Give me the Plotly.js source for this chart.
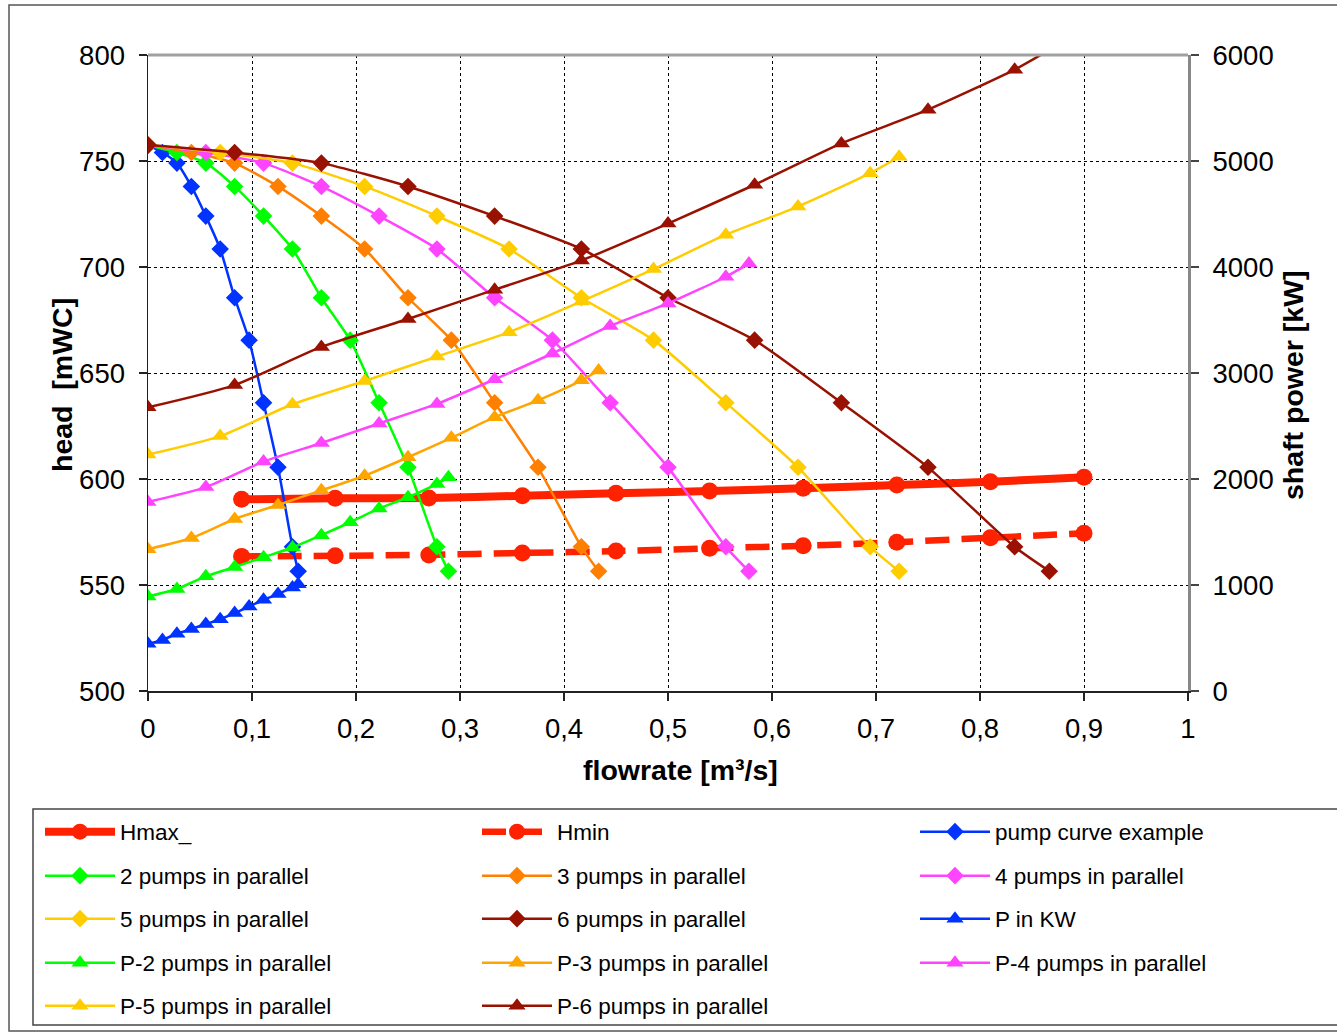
<!DOCTYPE html>
<html>
<head>
<meta charset="utf-8">
<script src="https://cdn.plot.ly/plotly-3.0.1.min.js"></script>
<style>
html,body{margin:0;padding:0;background:#fff;}
#chart{width:1337px;height:1034px;}
</style>
</head>
<body>
<div id="chart"></div>
<script>
// ---- data ----
// head (mWC) of the pump curve at each operating point (same heads for n pumps in parallel)
const HEAD = [757.5, 754, 749, 738, 724, 708.5, 685.5, 665.5, 636, 605.5, 568, 556.5];

// flow rates (m3/s) for 1..6 pumps in parallel
const Q1 = [0, 0.0139, 0.0278, 0.0417, 0.0556, 0.0694, 0.0833, 0.0972, 0.1111, 0.125, 0.1389, 0.1444];
const Q2 = [0, 0.0278, 0.0556, 0.0833, 0.1111, 0.1389, 0.1667, 0.1944, 0.2222, 0.25, 0.2778, 0.2889];
const Q3 = [0, 0.0417, 0.0833, 0.125, 0.1667, 0.2083, 0.25, 0.2917, 0.3333, 0.375, 0.4167, 0.4333];
const Q4 = [0, 0.0556, 0.1111, 0.1667, 0.2222, 0.2778, 0.3333, 0.3889, 0.4444, 0.5, 0.5556, 0.5778];
const Q5 = [0, 0.0694, 0.1389, 0.2083, 0.2778, 0.3472, 0.4167, 0.4861, 0.5556, 0.625, 0.6944, 0.7222];
const Q6 = [0, 0.0833, 0.1667, 0.25, 0.3333, 0.4167, 0.5, 0.5833, 0.6667, 0.75, 0.8333, 0.8667];

// shaft power (kW) for 1..6 pumps in parallel
const P1 = [446, 481, 541, 585, 631, 677, 735, 796, 861, 914, 977, 1008];
const P2 = [892, 962, 1082, 1170, 1262, 1354, 1470, 1592, 1722, 1828, 1954, 2016];
const P3 = [1338, 1443, 1623, 1755, 1893, 2031, 2205, 2388, 2583, 2742, 2931, 3024];
const P4 = [1784, 1924, 2164, 2340, 2524, 2708, 2940, 3184, 3444, 3656, 3908, 4032];
const P5 = [2230, 2405, 2705, 2925, 3155, 3385, 3675, 3980, 4305, 4570, 4885, 5040];
const P6 = [2676, 2886, 3246, 3510, 3786, 4062, 4410, 4776, 5166, 5484, 5862, 6048];

// system curves
const SYS_Q = [0.09, 0.18, 0.27, 0.36, 0.45, 0.54, 0.63, 0.72, 0.81, 0.9];
const HMAX = [590.4, 590.9, 591.0, 592.1, 593.3, 594.3, 595.6, 597.2, 598.7, 600.8];
const HMIN = [563.5, 563.8, 564.2, 565.1, 566.0, 567.3, 568.5, 570.2, 572.3, 574.4];

const NAMES = ['Hmax_', 'Hmin', 'pump curve example',
  '2 pumps in parallel', '3 pumps in parallel', '4 pumps in parallel',
  '5 pumps in parallel', '6 pumps in parallel', 'P in KW',
  'P-2 pumps in parallel', 'P-3 pumps in parallel', 'P-4 pumps in parallel',
  'P-5 pumps in parallel', 'P-6 pumps in parallel'];

const X_TITLE = 'flowrate [m³/s]';
const Y_TITLE = 'head\u00a0\u00a0[mWC]';
const Y2_TITLE = 'shaft power [kW]';

// ---- styling ----
const FONT = 'Liberation Sans, Arial, sans-serif';
const RED = '#FF2200', BLUE = '#0033FF', GREEN = '#00FF00', ORANGE = '#FF7F00',
      AMBER = '#FFA500', PINK = '#FF44FF', GOLD = '#FFCC00', BROWN = '#991100';

function curve(name, x, y, color, symbol, axis, idx) {
  return {
    type: 'scatter', mode: 'lines+markers', name: name, x: x, y: y,
    yaxis: axis,
    line: {color: color, width: 2.5, shape: 'spline', smoothing: 0.6},
    marker: {symbol: symbol, size: symbol === 'diamond' ? 13.5 : 15, color: color},
    legend: idx === 0 ? 'legend' : 'legend' + (idx + 1),
    cliponaxis: true
  };
}

const traces = [
  {type: 'scatter', mode: 'lines+markers', name: NAMES[0], x: SYS_Q, y: HMAX, yaxis: 'y',
   line: {color: RED, width: 8, shape: 'spline', smoothing: 0.6},
   marker: {symbol: 'circle', size: 17, color: RED}, legend: 'legend'},
  {type: 'scatter', mode: 'lines+markers', name: NAMES[1], x: SYS_Q, y: HMIN, yaxis: 'y',
   line: {color: RED, width: 6.5, dash: '24px,12px', shape: 'spline', smoothing: 0.6},
   marker: {symbol: 'circle', size: 17, color: RED}, legend: 'legend2'},
  curve(NAMES[2], Q1, HEAD, BLUE, 'diamond', 'y', 2),
  curve(NAMES[3], Q2, HEAD, GREEN, 'diamond', 'y', 3),
  curve(NAMES[4], Q3, HEAD, ORANGE, 'diamond', 'y', 4),
  curve(NAMES[5], Q4, HEAD, PINK, 'diamond', 'y', 5),
  curve(NAMES[6], Q5, HEAD, GOLD, 'diamond', 'y', 6),
  curve(NAMES[7], Q6, HEAD, BROWN, 'diamond', 'y', 7),
  curve(NAMES[8], Q1, P1, BLUE, 'triangle-up', 'y2', 8),
  curve(NAMES[9], Q2, P2, GREEN, 'triangle-up', 'y2', 9),
  curve(NAMES[10], Q3, P3, AMBER, 'triangle-up', 'y2', 10),
  curve(NAMES[11], Q4, P4, PINK, 'triangle-up', 'y2', 11),
  curve(NAMES[12], Q5, P5, GOLD, 'triangle-up', 'y2', 12),
  curve(NAMES[13], Q6, P6, BROWN, 'triangle-up', 'y2', 13)
];

const W = 1337, H = 1034;
const COLX = [40, 477, 915];
const ROWY = [832, 876, 919, 963, 1006];

const TICKFONT = {size: 27.5, family: FONT, color: '#000'};
const TITLEFONT = {size: 28.5, family: FONT, color: '#000'};
const layout = {
  width: W, height: H,
  paper_bgcolor: '#fff', plot_bgcolor: '#fff',
  separators: ', ',
  font: {family: FONT, color: '#000', size: 25},
  margin: {l: 148, r: 149, t: 55, b: 343, autoexpand: false},
  showlegend: true,
  xaxis: {
    range: [0, 1], dtick: 0.1, tick0: 0,
    showgrid: true, gridcolor: '#000', griddash: 'dot', gridwidth: 1,
    showline: true, linecolor: '#222', linewidth: 1.5,
    ticks: 'outside', ticklen: 8, tickcolor: '#222', tickwidth: 1.5,
    tickfont: TICKFONT, ticklabelstandoff: 4,
    zeroline: false, automargin: false
  },
  yaxis: {
    range: [500, 800], dtick: 50, tick0: 500,
    showgrid: true, gridcolor: '#000', griddash: 'dot', gridwidth: 1,
    showline: true, linecolor: '#222', linewidth: 1.5,
    ticks: 'outside', ticklen: 8, tickcolor: '#222', tickwidth: 1.5,
    tickfont: TICKFONT, ticklabelstandoff: 8,
    zeroline: false, automargin: false
  },
  yaxis2: {
    range: [0, 6000], dtick: 1000, tick0: 0,
    overlaying: 'y', side: 'right',
    showgrid: false, zeroline: false,
    showline: true, linecolor: '#888', linewidth: 3,
    ticks: 'outside', ticklen: 8, tickcolor: '#444', tickwidth: 1.5,
    tickfont: TICKFONT, ticklabelstandoff: 8, automargin: false
  },
  annotations: [
    {text: '<b>' + X_TITLE + '</b>', xref: 'paper', yref: 'paper',
     x: (680 - 148) / 1040, y: (691 - 770) / 636, xanchor: 'center', yanchor: 'middle',
     showarrow: false, font: TITLEFONT},
    {text: '<b>' + Y_TITLE + '</b>', xref: 'paper', yref: 'paper', textangle: -90,
     x: (62 - 148) / 1040, y: (691 - 385) / 636, xanchor: 'center', yanchor: 'middle',
     showarrow: false, font: TITLEFONT},
    {text: '<b>' + Y2_TITLE + '</b>', xref: 'paper', yref: 'paper', textangle: -90,
     x: (1293 - 148) / 1040, y: (691 - 385) / 636, xanchor: 'center', yanchor: 'middle',
     showarrow: false, font: TITLEFONT}
  ],
  shapes: [
    // top border of plot area
    {type: 'line', xref: 'paper', yref: 'paper', x0: 0, x1: 1, y0: 1, y1: 1,
     line: {color: '#A0A0A0', width: 3}},
    // outer chart frame
    {type: 'rect', xref: 'paper', yref: 'paper',
     x0: (9 - 148) / 1040, x1: (1400 - 148) / 1040,
     y0: (691 - 1031) / 636, y1: (691 - 5) / 636,
     line: {color: '#555', width: 1.5}},
    // legend frame
    {type: 'rect', xref: 'paper', yref: 'paper',
     x0: (33 - 148) / 1040, x1: (1400 - 148) / 1040,
     y0: (691 - 1025) / 636, y1: (691 - 809) / 636,
     line: {color: '#444', width: 1.5}}
  ]
};

// one small legend per entry so the 3-column grid can be placed exactly
NAMES.forEach(function (n, i) {
  const key = i === 0 ? 'legend' : 'legend' + (i + 1);
  layout[key] = {
    xref: 'container', yref: 'container',
    x: COLX[i % 3] / W, y: 1 - ROWY[Math.floor(i / 3)] / H,
    xanchor: 'left', yanchor: 'middle',
    bgcolor: 'rgba(0,0,0,0)', borderwidth: 0,
    font: {size: 22.5, family: FONT, color: '#000'},
    itemwidth: 70, orientation: 'v', itemclick: false, itemdoubleclick: false
  };
});

Plotly.newPlot('chart', traces, layout, {staticPlot: true, displayModeBar: false});
</script>
</body>
</html>
